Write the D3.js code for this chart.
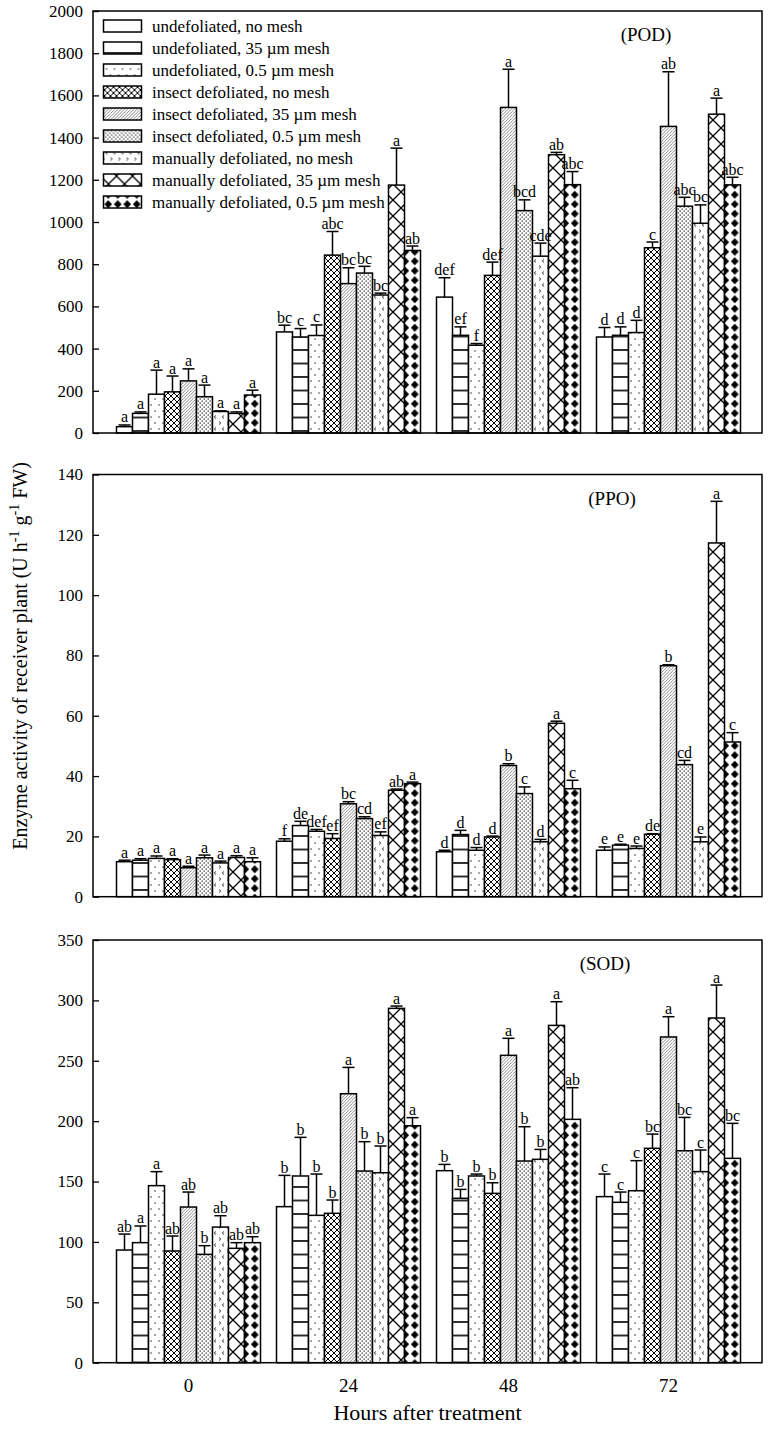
<!DOCTYPE html>
<html>
<head>
<meta charset="utf-8">
<script src="https://cdn.jsdelivr.net/npm/d3@7"></script>
<style>
  html, body { margin: 0; padding: 0; background: #fff; }
  svg { display: block; }
  text { font-family: "Liberation Serif", "Times New Roman", serif; fill: #000; }
</style>
</head>
<body>
<div id="chart"></div>
<script>
// ---------------- DATA ----------------
const hours = ["0", "24", "48", "72"];
const treatments = [
  "undefoliated, no mesh",
  "undefoliated, 35 \u00b5m mesh",
  "undefoliated, 0.5 \u00b5m mesh",
  "insect defoliated, no mesh",
  "insect defoliated, 35 \u00b5m mesh",
  "insect defoliated, 0.5 \u00b5m mesh",
  "manually defoliated, no mesh",
  "manually defoliated, 35 \u00b5m mesh",
  "manually defoliated, 0.5 \u00b5m mesh"
];

// POD (rows = hours, columns = treatments)
const podMean = [
  [30, 93, 184, 195, 247, 172, 102, 93, 180],
  [479, 455, 462, 843, 708, 758, 654, 1175, 865],
  [644, 463, 416, 747, 1543, 1054, 838, 1319, 1177],
  [455, 463, 476, 878, 1453, 1075, 994, 1511, 1176]
];
const podSE = [
  [8, 7, 114, 75, 57, 55, 3, 7, 23],
  [32, 40, 50, 112, 75, 32, 9, 175, 21],
  [92, 40, 8, 63, 181, 51, 62, 11, 62],
  [45, 40, 58, 27, 259, 42, 87, 76, 36]
];
const podLetters = [
  ["a", "a", "a", "a", "a", "a", "a", "a", "a"],
  ["bc", "c", "c", "abc", "bc", "bc", "bc", "a", "ab"],
  ["def", "ef", "f", "def", "a", "bcd", "cde", "ab", "abc"],
  ["d", "d", "d", "c", "ab", "abc", "bc", "a", "abc"]
];

// PPO
const ppoMean = [
  [11.6, 12.1, 12.7, 12.3, 9.6, 12.9, 11.2, 13.0, 11.6],
  [18.4, 23.6, 21.7, 19.3, 30.8, 25.9, 20.3, 35.3, 37.5],
  [14.9, 20.6, 15.4, 19.8, 43.5, 34.2, 18.2, 57.5, 35.8],
  [15.4, 17.1, 16.0, 20.7, 76.6, 43.8, 18.2, 117.3, 51.3]
];
const ppoSE = [
  [0.5, 0.5, 0.8, 0.3, 0.5, 0.9, 0.6, 0.6, 1.3],
  [0.8, 1.4, 0.6, 1.6, 0.7, 0.6, 1.2, 0.4, 0.5],
  [0.5, 1.4, 0.9, 0.3, 0.6, 2.2, 0.8, 0.7, 2.8],
  [1.1, 0.3, 0.8, 0.2, 0.3, 1.4, 1.6, 13.8, 3.1]
];
const ppoLetters = [
  ["a", "a", "a", "a", "a", "a", "a", "a", "a"],
  ["f", "de", "def", "ef", "bc", "cd", "ef", "ab", "a"],
  ["d", "d", "d", "d", "b", "c", "d", "a", "c"],
  ["e", "e", "e", "de", "b", "cd", "e", "a", "c"]
];

// SOD
const sodMean = [
  [93.3, 99.4, 146.6, 92.5, 128.9, 89.7, 112.3, 94.7, 99.4],
  [129.2, 154.6, 122.0, 123.7, 222.7, 158.7, 157.3, 293.4, 196.2],
  [159.0, 136.1, 154.6, 140.2, 254.5, 167.0, 168.4, 279.3, 201.5],
  [137.5, 132.8, 142.4, 177.5, 269.7, 175.5, 158.2, 285.4, 169.2]
];
const sodSE = [
  [13.2, 13.8, 11.6, 12.4, 12.4, 7.2, 9.4, 4.7, 4.9],
  [25.9, 32.0, 34.2, 11.0, 21.8, 24.3, 22.1, 1.9, 6.7],
  [5.2, 7.4, 1.6, 8.8, 14.1, 28.4, 8.2, 19.6, 26.2],
  [18.7, 8.5, 24.9, 11.8, 16.8, 27.6, 17.9, 27.3, 29.0]
];
const sodLetters = [
  ["ab", "a", "a", "ab", "ab", "b", "ab", "ab", "ab"],
  ["b", "b", "b", "b", "a", "b", "b", "a", "a"],
  ["b", "b", "b", "b", "a", "b", "b", "a", "ab"],
  ["c", "c", "c", "bc", "a", "bc", "c", "a", "bc"]
];

const podTicks = d3.range(0, 2001, 200);
const ppoTicks = d3.range(0, 141, 20);
const sodTicks = d3.range(0, 351, 50);

// ---------------- LAYOUT ----------------
const W = 768, H = 1430;
const plotLeft = 93, plotRight = 762;
const panels = [
  { name: "(POD)", mean: podMean, se: podSE, letters: podLetters, ticks: podTicks, max: 2000, top: 11, bottom: 433, labelX: 646, legend: true },
  { name: "(PPO)", mean: ppoMean, se: ppoSE, letters: ppoLetters, ticks: ppoTicks, max: 140, top: 474.5, bottom: 896.7, labelX: 612, legend: false },
  { name: "(SOD)", mean: sodMean, se: sodSE, letters: sodLetters, ticks: sodTicks, max: 350, top: 940, bottom: 1362.7, labelX: 605, legend: false, xAxis: true }
];

const svg = d3.select("#chart").append("svg").attr("width", W).attr("height", H);

const x0 = d3.scaleBand().domain(hours).range([plotLeft + 15.5, plotRight - 13.5]);
const x1 = d3.scaleBand().domain(treatments).range([8, x0.bandwidth() - 8]);
const bw = x1.bandwidth();

// ---------------- PATTERNS ----------------
const defs = svg.append("defs");
function pat(id, w, h, xOff, draw) {
  const p = defs.append("pattern").attr("id", id).attr("patternUnits", "userSpaceOnUse")
    .attr("width", w).attr("height", h).attr("x", xOff).attr("y", 0);
  p.append("rect").attr("width", w).attr("height", h).attr("fill", "#fff");
  draw(p);
}
const barLeft = i => x0(hours[0]) + x1(treatments[i]);

pat("p0", 10, 10, 0, p => {});
pat("p1", 10, 13.5, 0, p => {
  p.append("line").attr("x1", 0).attr("x2", 10).attr("y1", 12.5).attr("y2", 12.5).attr("stroke", "#000").attr("stroke-width", 1.6);
});
pat("p2", 8, 12, barLeft(2), p => {
  [[2, 3], [6, 9]].forEach(([cx, cy]) => p.append("circle").attr("cx", cx).attr("cy", cy).attr("r", 0.75).attr("fill", "#222"));
});
pat("p3", 6, 6, barLeft(3), p => {
  p.append("path").attr("d", "M0,0L6,6M6,0L0,6M-3,3L3,-3M3,9L9,3M-3,3L3,9M3,-3L9,3").attr("stroke", "#000").attr("stroke-width", 1.0);
});
pat("p4", 3.2, 3.2, 0, p => {
  p.append("path").attr("d", "M-1,1L1,-1M0,3.2L3.2,0M2.2,4.2L4.2,2.2").attr("stroke", "#666").attr("stroke-width", 0.75);
});
pat("p5", 4, 4, barLeft(5), p => {
  p.append("rect").attr("x", 0.5).attr("y", 0.5).attr("width", 1.5).attr("height", 1.1).attr("fill", "#333");
  p.append("rect").attr("x", 2.5).attr("y", 2.5).attr("width", 1.5).attr("height", 1.1).attr("fill", "#333");
});
pat("p6", 8, 12, barLeft(6), p => {
  p.append("path").attr("d", "M2,1.5L3.8,3L2,4.5").attr("fill", "none").attr("stroke", "#222").attr("stroke-width", 0.9);
  p.append("path").attr("d", "M7,7.5L5.2,9L7,10.5").attr("fill", "none").attr("stroke", "#222").attr("stroke-width", 0.9);
});
pat("p7", 16, 16, barLeft(7), p => {
  p.append("path").attr("d", "M0,0L16,16M16,0L0,16").attr("stroke", "#000").attr("stroke-width", 1.3);
});
pat("p8", 9.5, 9.5, barLeft(8) + 1.5, p => {
  p.append("path").attr("d", "M4.75,0.6L8.6,4.75L4.75,8.9L0.9,4.75Z").attr("fill", "#000");
});
const fillOf = i => `url(#p${i})`;

// ---------------- PANELS ----------------
panels.forEach(P => {
  const y = d3.scaleLinear().domain([0, P.max]).range([P.bottom, P.top]);
  const g = svg.append("g");

  // bars
  hours.forEach((h, hi) => {
    const gg = g.append("g").attr("transform", `translate(${x0(h)},0)`);
    const rows = treatments.map((t, ti) => ({ t, ti, m: P.mean[hi][ti], s: P.se[hi][ti], l: P.letters[hi][ti] }));
    gg.selectAll("rect.bar").data(rows).join("rect").attr("class", "bar")
      .attr("x", d => x1(d.t)).attr("width", bw)
      .attr("y", d => y(d.m)).attr("height", d => y(0) - y(d.m))
      .attr("fill", d => fillOf(d.ti)).attr("stroke", "#000").attr("stroke-width", 1.5);
    // error bars
    gg.selectAll("line.err").data(rows).join("line").attr("class", "err")
      .attr("x1", d => x1(d.t) + bw / 2).attr("x2", d => x1(d.t) + bw / 2)
      .attr("y1", d => y(d.m)).attr("y2", d => y(d.m + d.s))
      .attr("stroke", "#000").attr("stroke-width", 1.5);
    gg.selectAll("line.cap").data(rows).join("line").attr("class", "cap")
      .attr("x1", d => x1(d.t) + bw / 2 - 6).attr("x2", d => x1(d.t) + bw / 2 + 6)
      .attr("y1", d => y(d.m + d.s)).attr("y2", d => y(d.m + d.s))
      .attr("stroke", "#000").attr("stroke-width", 1.5);
    gg.selectAll("text.let").data(rows).join("text").attr("class", "let")
      .attr("x", d => x1(d.t) + bw / 2).attr("y", d => y(d.m + d.s) - 2.5)
      .attr("text-anchor", "middle").attr("font-size", 16).text(d => d.l);
  });

  // frame
  g.append("rect").attr("x", plotLeft).attr("y", P.top).attr("width", plotRight - plotLeft)
    .attr("height", P.bottom - P.top).attr("fill", "none").attr("stroke", "#000").attr("stroke-width", 1.5);

  // y axis
  const ax = g.append("g").attr("transform", `translate(${plotLeft},0)`)
    .call(d3.axisLeft(y).tickValues(P.ticks).tickSizeInner(-6).tickSizeOuter(0).tickPadding(10).tickFormat(d3.format("d")));
  ax.select(".domain").remove();
  ax.selectAll(".tick line").attr("stroke", "#000").attr("stroke-width", 1.3);
  ax.selectAll(".tick text").attr("font-size", 17).attr("font-family", "Liberation Serif, serif").attr("fill", "#000");

  // panel label
  g.append("text").attr("x", P.labelX).attr("y", P.top + 30).attr("text-anchor", "middle")
    .attr("font-size", 19).text(P.name);

  // legend
  if (P.legend) {
    const lg = g.append("g");
    treatments.forEach((t, i) => {
      const cy = 26 + 22 * i;
      lg.append("rect").attr("x", 103.5).attr("y", cy - 6).attr("width", 38).attr("height", 12)
        .attr("fill", fillOf(i)).attr("stroke", "#000").attr("stroke-width", 1.5);
      lg.append("text").attr("x", 152).attr("y", cy + 5.5).attr("font-size", 17).text(t);
    });
  }

  // x axis labels
  if (P.xAxis) {
    g.selectAll("text.xt").data(hours).join("text").attr("class", "xt")
      .attr("x", h => x0(h) + x0.bandwidth() / 2).attr("y", P.bottom + 29)
      .attr("text-anchor", "middle").attr("font-size", 19).text(h => h);
  }
});

// axis titles
svg.append("text").attr("x", (plotLeft + plotRight) / 2).attr("y", 1420)
  .attr("text-anchor", "middle").attr("font-size", 22).text("Hours after treatment");

const yt = svg.append("text").attr("transform", "translate(27,656) rotate(-90)")
  .attr("text-anchor", "middle").attr("font-size", 20);
yt.append("tspan").text("Enzyme activity of receiver plant (U h");
yt.append("tspan").attr("dy", -8).attr("font-size", 14).text("-1");
yt.append("tspan").attr("dy", 8).text(" g");
yt.append("tspan").attr("dy", -8).attr("font-size", 14).text("-1");
yt.append("tspan").attr("dy", 8).text(" FW)");
</script>
</body>
</html>
